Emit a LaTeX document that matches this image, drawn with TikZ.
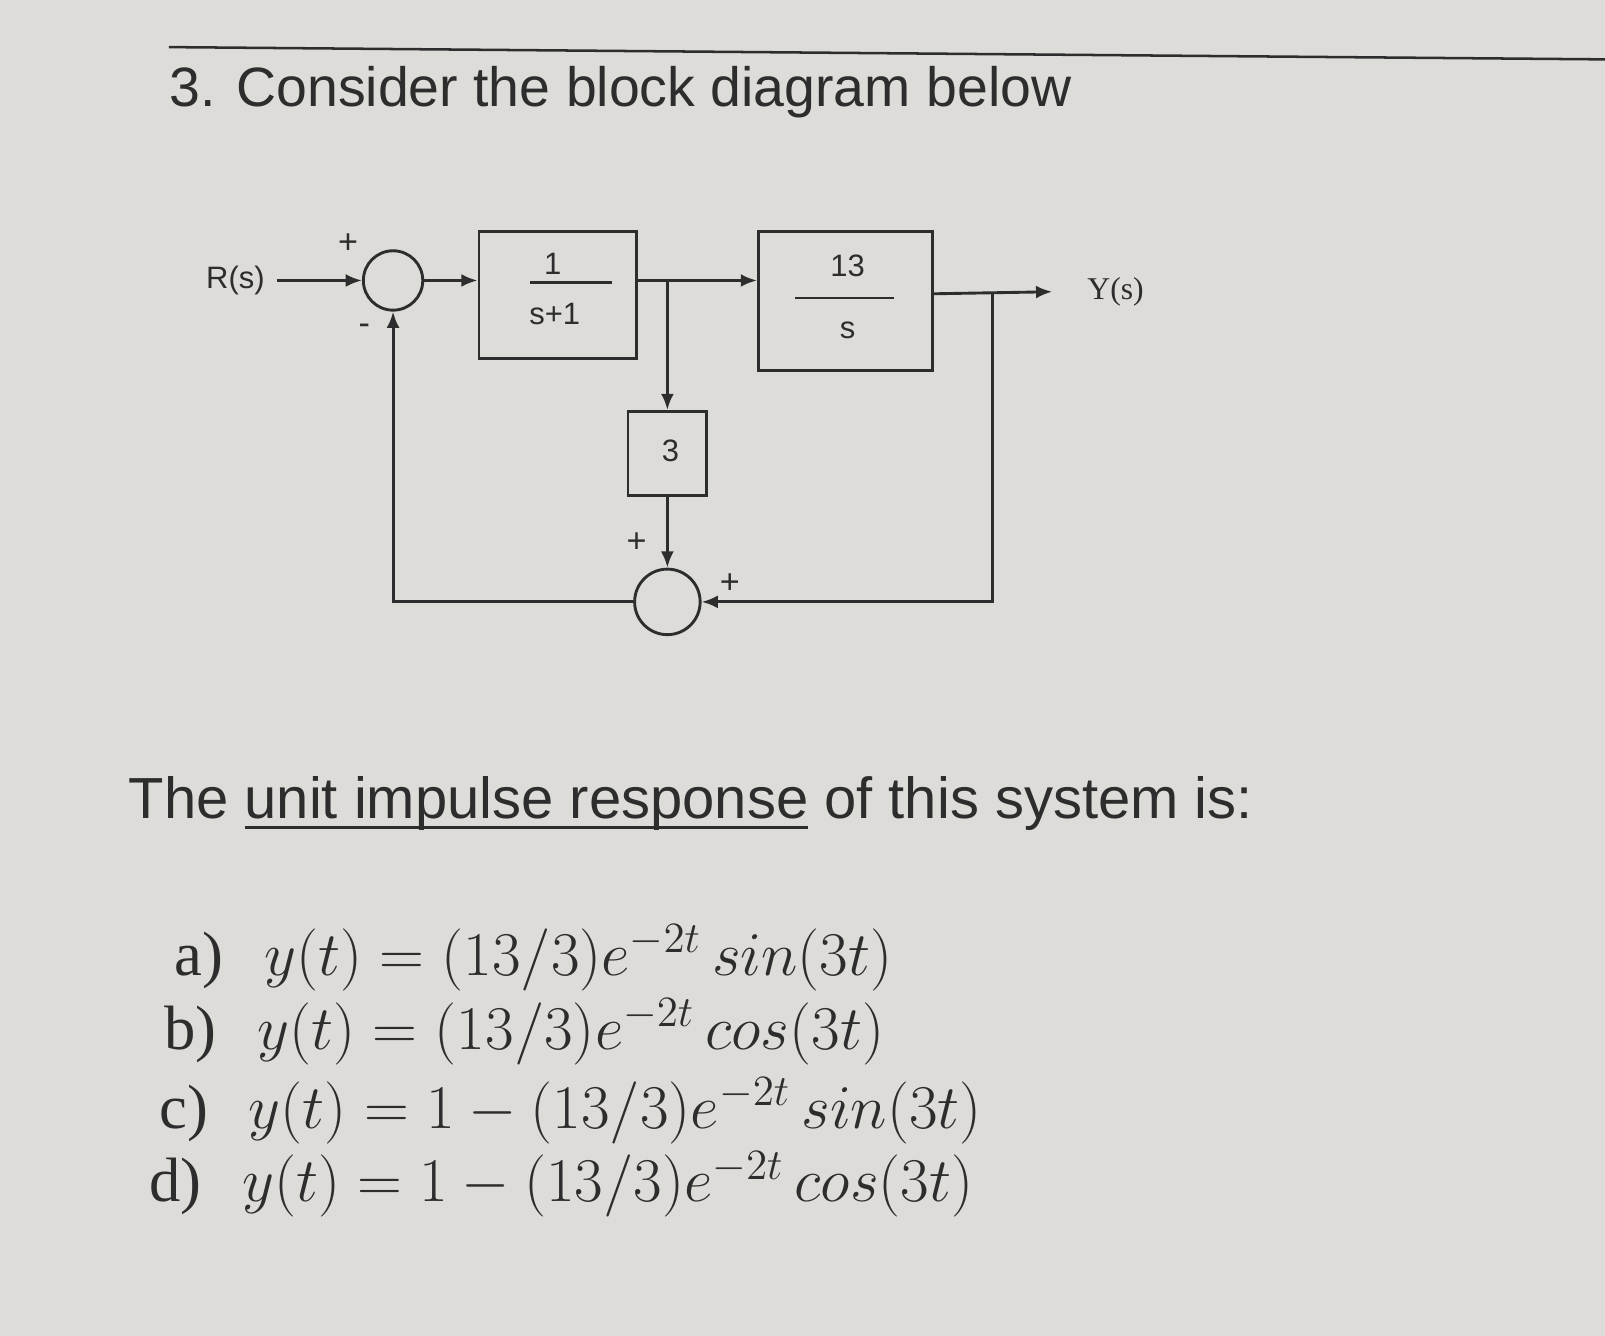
\documentclass[tikz,border=0pt]{standalone}
\usepackage{amsmath}
\usepackage[no-math]{fontspec}
\setmainfont{Liberation Sans}
\newfontfamily\serifface{Liberation Serif}
\usetikzlibrary{arrows.meta}
\definecolor{paper}{RGB}{222,220,216}
\definecolor{ink}{RGB}{45,45,45}

\begin{document}
\begin{tikzpicture}[x=0.01cm, y=-0.01cm,
  block/.style={draw=ink, line width=0.8pt},
  sumnode/.style={draw=ink, circle, line width=0.8pt, minimum size=0.58cm, inner sep=0pt},
  wire/.style={draw=ink, line width=0.8pt},
  sig/.style={wire, -{Latex[length=4.5pt,width=3.6pt]}},
  lbl/.style={text=ink, font=\fontsize{8.6}{10}\selectfont},
  sgn/.style={text=ink, font=\fontsize{9.5}{10}\selectfont},
  choice/.style={text=ink, anchor=base west, inner sep=0pt, font=\fontsize{17.4}{20}\selectfont},
]
  \useasboundingbox[fill=paper] (0,0) rectangle (1568,1305);
  \draw[ink, line width=0.7pt] (165,46) -- (1568,58);
  \node[anchor=base west, text=ink, inner sep=0pt, font=\fontsize{15.4}{18}\selectfont] (title) at (165,104) {3. Consider the block diagram below};

  % block diagram
  \node[lbl] (rin) at (230,274) {R(s)};
  \node[sumnode] (sum1) at (384,274) {};
  \node[block, minimum width=1.54cm, minimum height=1.24cm] (b1) at (545,288) {};
  \coordinate (j) at (652,274);
  \node[block, minimum width=1.7cm, minimum height=1.36cm] (b2) at (826,294) {};
  \coordinate (k) at (970,287);
  \node[lbl, font=\serifface\fontsize{8.8}{10}\selectfont, anchor=west] (yout) at (1050,285) {Y(s)};
  \node[block, minimum width=0.77cm, minimum height=0.82cm] (b3) at (652,443) {};
  \node[sumnode, minimum size=0.64cm] (sum2) at (652,588) {};

  % block contents
  \node[lbl] (b1num) at (540,258) {1};
  \draw[ink, line width=0.6pt] (518,276) -- (598,276);
  \node[lbl] (b1den) at (542,307) {s+1};
  \node[lbl] (b2num) at (828,260) {13};
  \draw[ink, line width=0.6pt] (777,291) -- (873,291);
  \node[lbl] (b2den) at (828,323) {s};
  \node[lbl] (b3val) at (655,440) {3};

  % signs
  \node[sgn] (p1) at (340,238) {+};
  \node[sgn] (m1) at (356,322) {-};
  \node[sgn] (p2) at (622,530) {+};
  \node[sgn] (p3) at (713,570) {+};

  % connectors
  \draw[sig] (rin) -- (sum1);
  \draw[sig] (sum1) -- (sum1 -| b1.west);
  \draw[wire] (b1.east |- j) -- (j);
  \draw[sig] (j) -- (j -| b2.west);
  \draw[sig] (j) -- (b3);
  \draw[sig] (b3) -- (sum2);
  \draw[sig] (b2.east |- k) -- ([xshift=-0.22cm]yout.west);
  \draw[sig] (k) |- (sum2);
  \draw[sig] (sum2) -| (sum1);

  % question
  \node[anchor=base west, text=ink, inner sep=0pt, font=\fontsize{16.1}{19}\selectfont] (question) at (125,800) {The \underline{\smash{unit impulse response}} of this system is:};
  \node[choice] (opta) at (170,953) {{\serifface a)}\hspace{0.4cm}$y(t)=(13/3)e^{-2t}\,sin(3t)$};
  \node[choice] (optb) at (160,1025) {{\serifface b)}\hspace{0.4cm}$y(t)=(13/3)e^{-2t}\,cos(3t)$};
  \node[choice] (optc) at (155,1102) {{\serifface c)}\hspace{0.4cm}$y(t)=1-(13/3)e^{-2t}\,sin(3t)$};
  \node[choice] (optd) at (145,1174) {{\serifface d)}\hspace{0.4cm}$y(t)=1-(13/3)e^{-2t}\,cos(3t)$};
\end{tikzpicture}
\end{document}
